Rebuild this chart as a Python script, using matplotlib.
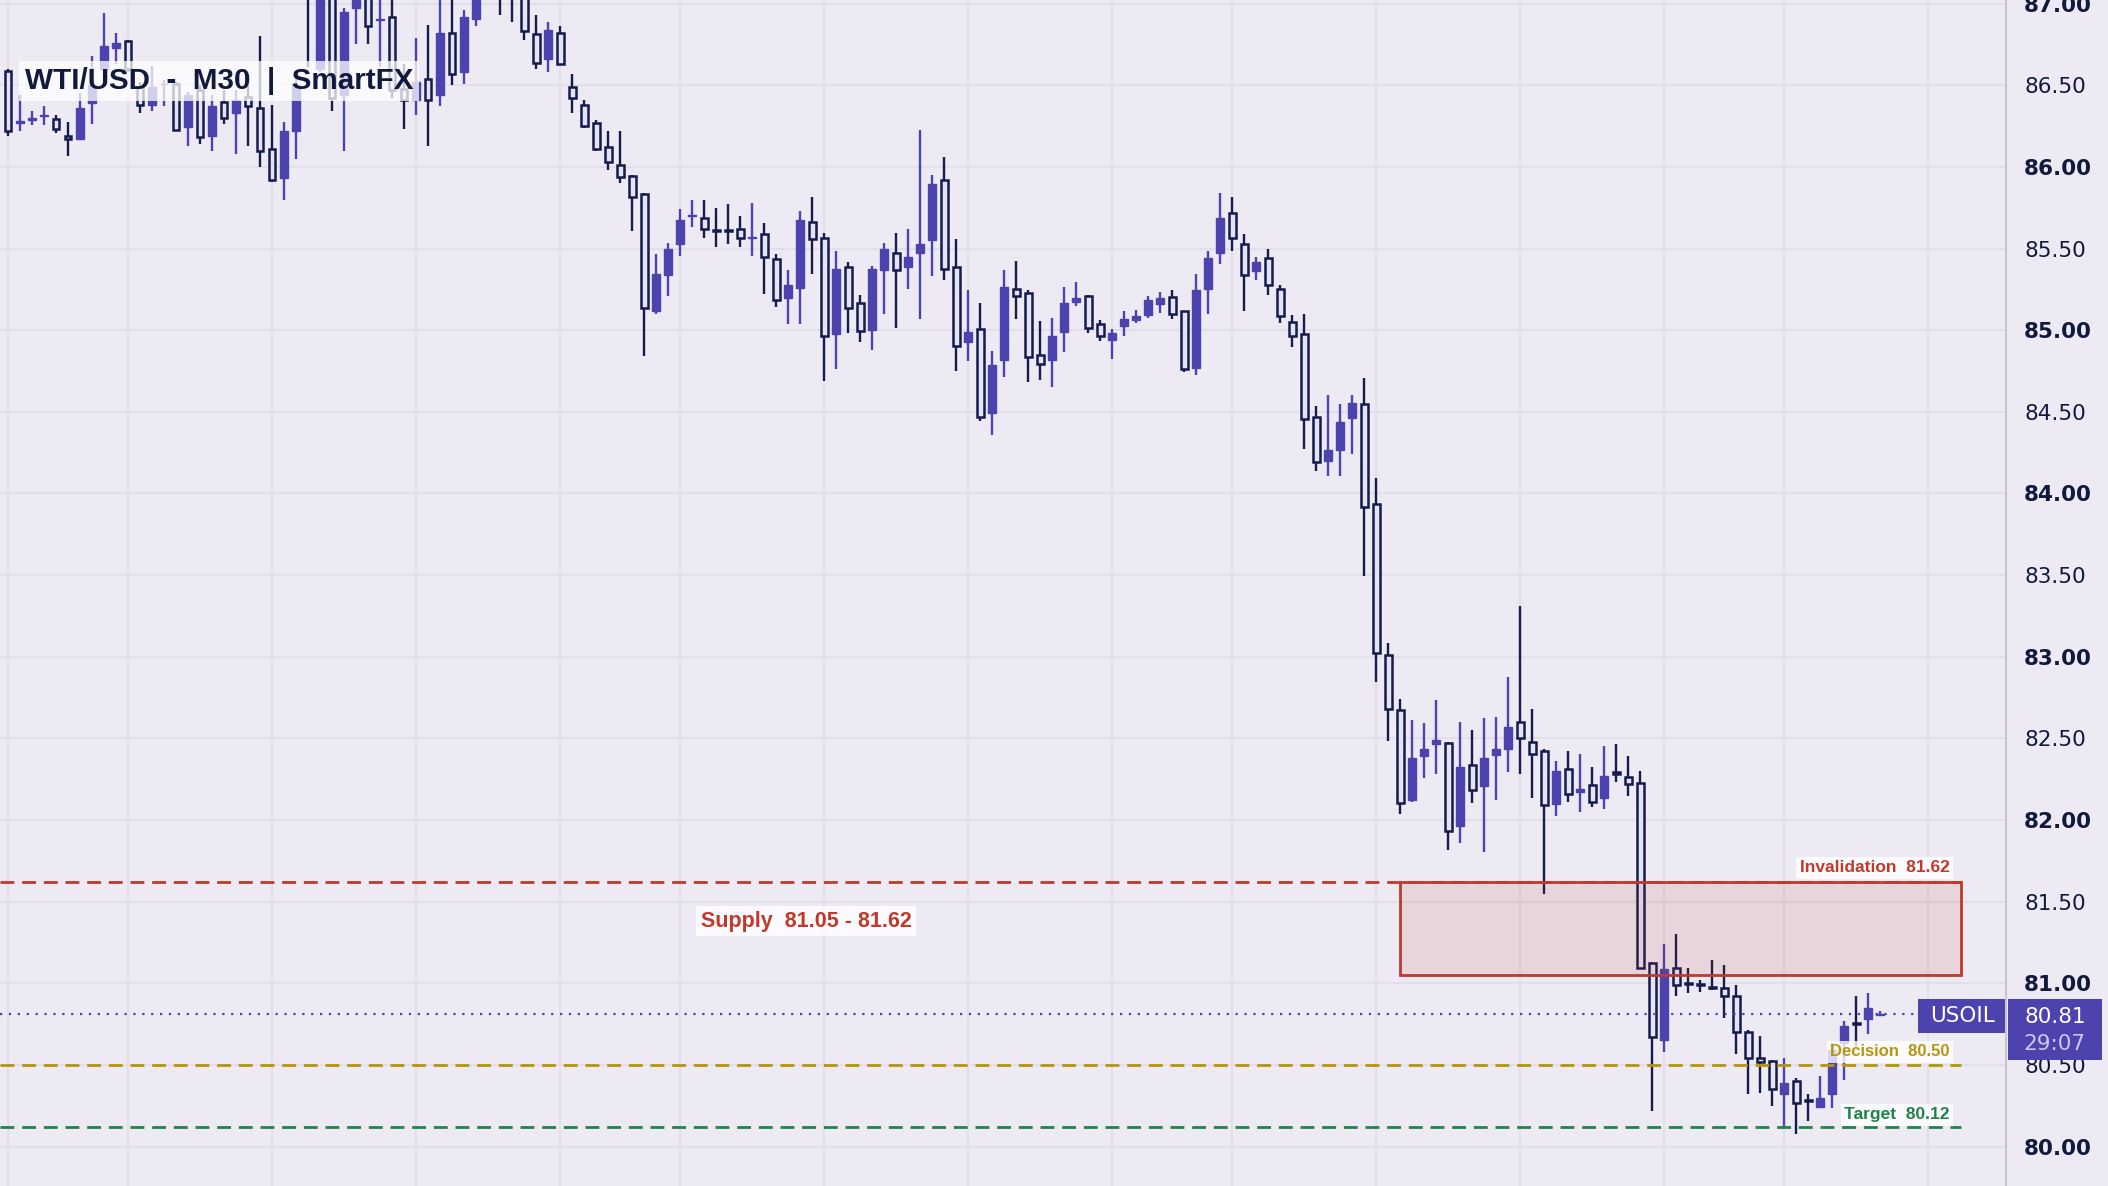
import matplotlib
matplotlib.use("Agg")
import matplotlib.pyplot as plt
from matplotlib.patches import Rectangle

# ---- data ----------------------------------------------------------------
opens = [86.59, 86.27, 86.29, 86.31, 86.295, 86.19, 86.17, 86.39, 86.60, 86.725,
         86.77, 86.49, 86.38, 86.505, 86.51, 86.245, 86.47, 86.19, 86.40, 86.33,
         86.43, 86.36, 86.11, 85.93, 86.22, 87.30, 86.60, 87.20, 86.44, 86.97,
         87.15, 86.90, 86.915, 86.475, 86.41, 86.54, 86.44, 86.82, 86.58, 86.905,
         87.08, 87.25, 87.12, 87.05, 86.815, 86.66, 86.82, 86.49, 86.38, 86.27,
         86.12, 86.01, 85.945, 85.835, 85.115, 85.335, 85.525, 85.70, 85.685, 85.613,
         85.613, 85.62, 85.565, 85.59, 85.435, 85.195, 85.26, 85.665, 85.565, 84.975,
         85.385, 85.165, 85.00, 85.37, 85.475, 85.385, 85.475, 85.555, 85.92, 85.385,
         84.925, 85.005, 84.49, 84.815, 85.255, 85.225, 84.85, 84.815, 84.99, 85.175,
         85.21, 85.04, 84.94, 85.025, 85.065, 85.095, 85.16, 85.205, 85.115, 84.77,
         85.255, 85.475, 85.715, 85.53, 85.365, 85.445, 85.255, 85.05, 84.975, 84.47,
         84.20, 84.265, 84.465, 84.545, 83.935, 83.01, 82.675, 82.12, 82.39, 82.465,
         82.47, 81.965, 82.34, 82.21, 82.40, 82.435, 82.60, 82.48, 82.42, 82.10,
         82.31, 82.17, 82.215, 82.135, 82.297, 82.265, 82.23, 81.125, 80.655, 81.095,
         81.00, 80.995, 80.975, 80.97, 80.925, 80.705, 80.54, 80.525, 80.325, 80.40,
         80.283, 80.245, 80.325, 80.635, 80.755, 80.78, 80.805]
highs = [86.60, 86.44, 86.34, 86.37, 86.32, 86.275, 86.45, 86.68, 86.94, 86.82,
         86.78, 86.52, 86.62, 86.53, 86.52, 86.46, 86.50, 86.44, 86.47, 86.47,
         86.50, 86.80, 86.38, 86.275, 86.58, 87.35, 87.25, 87.25, 86.97, 87.20,
         87.20, 87.05, 87.05, 86.63, 86.79, 86.87, 87.05, 87.05, 86.96, 87.10,
         87.30, 87.30, 87.18, 87.10, 86.93, 86.89, 86.86, 86.57, 86.41, 86.29,
         86.22, 86.22, 85.95, 85.84, 85.465, 85.535, 85.74, 85.80, 85.80, 85.75,
         85.77, 85.70, 85.78, 85.655, 85.465, 85.37, 85.73, 85.815, 85.595, 85.485,
         85.42, 85.215, 85.39, 85.535, 85.595, 85.62, 86.225, 85.95, 86.06, 85.56,
         85.245, 85.165, 84.875, 85.37, 85.425, 85.245, 85.055, 85.075, 85.265, 85.295,
         85.215, 85.065, 85.005, 85.115, 85.125, 85.21, 85.235, 85.245, 85.12, 85.345,
         85.485, 85.84, 85.815, 85.59, 85.45, 85.495, 85.275, 85.09, 85.10, 84.535,
         84.60, 84.55, 84.60, 84.71, 84.095, 83.085, 82.74, 82.61, 82.595, 82.735,
         82.475, 82.60, 82.55, 82.625, 82.63, 82.875, 83.31, 82.68, 82.435, 82.36,
         82.42, 82.405, 82.325, 82.455, 82.465, 82.39, 82.30, 81.13, 81.24, 81.30,
         81.095, 81.02, 81.14, 81.115, 80.99, 80.715, 80.68, 80.53, 80.545, 80.42,
         80.32, 80.435, 80.635, 80.77, 80.92, 80.94, 80.83]
lows = [86.19, 86.22, 86.255, 86.255, 86.21, 86.065, 86.165, 86.26, 86.55, 86.63,
        86.58, 86.33, 86.34, 86.37, 86.22, 86.13, 86.14, 86.10, 86.26, 86.08,
        86.13, 86.00, 85.91, 85.80, 86.05, 86.61, 86.58, 86.34, 86.10, 86.75,
        86.75, 86.61, 86.42, 86.23, 86.32, 86.13, 86.37, 86.50, 86.51, 86.86,
        87.04, 86.93, 86.89, 86.78, 86.60, 86.58, 86.63, 86.33, 86.24, 86.10,
        85.98, 85.90, 85.61, 84.84, 85.10, 85.21, 85.455, 85.63, 85.565, 85.51,
        85.53, 85.51, 85.455, 85.22, 85.14, 85.04, 85.04, 85.345, 84.69, 84.76,
        84.98, 84.93, 84.88, 85.10, 85.015, 85.25, 85.07, 85.33, 85.31, 84.75,
        84.81, 84.445, 84.36, 84.715, 85.07, 84.68, 84.695, 84.65, 84.865, 85.15,
        84.98, 84.935, 84.825, 84.965, 85.045, 85.075, 85.105, 85.07, 84.745, 84.725,
        85.10, 85.405, 85.485, 85.12, 85.31, 85.215, 85.045, 84.90, 84.275, 84.14,
        84.11, 84.11, 84.24, 83.495, 82.845, 82.485, 82.035, 82.11, 82.255, 82.285,
        81.815, 81.86, 82.105, 81.805, 82.12, 82.295, 82.28, 82.135, 81.55, 82.025,
        82.11, 82.05, 82.08, 82.065, 82.235, 82.145, 81.085, 80.22, 80.58, 80.925,
        80.94, 80.945, 80.96, 80.79, 80.57, 80.325, 80.33, 80.25, 80.12, 80.075,
        80.16, 80.24, 80.235, 80.41, 80.615, 80.69, 80.80]
closes = [86.22, 86.28, 86.30, 86.32, 86.23, 86.17, 86.36, 86.50, 86.74, 86.76,
          86.60, 86.38, 86.49, 86.51, 86.225, 86.44, 86.18, 86.37, 86.30, 86.41,
          86.37, 86.10, 85.92, 86.22, 86.50, 87.10, 87.20, 86.42, 86.95, 87.15,
          86.86, 86.905, 86.47, 86.41, 86.52, 86.41, 86.82, 86.57, 86.915, 87.08,
          87.25, 87.12, 87.04, 86.83, 86.635, 86.84, 86.63, 86.42, 86.25, 86.11,
          86.03, 85.94, 85.815, 85.135, 85.345, 85.50, 85.675, 85.705, 85.62, 85.61,
          85.61, 85.565, 85.568, 85.45, 85.185, 85.275, 85.675, 85.56, 84.965, 85.375,
          85.135, 84.995, 85.375, 85.50, 85.37, 85.45, 85.525, 85.895, 85.375, 84.905,
          84.99, 84.47, 84.785, 85.265, 85.21, 84.835, 84.795, 84.965, 85.165, 85.195,
          85.015, 84.965, 84.985, 85.07, 85.085, 85.185, 85.195, 85.10, 84.765, 85.245,
          85.445, 85.685, 85.565, 85.34, 85.415, 85.275, 85.085, 84.965, 84.455, 84.195,
          84.265, 84.44, 84.555, 83.915, 83.025, 82.68, 82.105, 82.38, 82.435, 82.49,
          81.93, 82.325, 82.185, 82.38, 82.435, 82.57, 82.50, 82.405, 82.09, 82.30,
          82.16, 82.19, 82.11, 82.27, 82.28, 82.22, 81.095, 80.67, 81.09, 80.99,
          80.995, 80.99, 80.97, 80.925, 80.70, 80.545, 80.52, 80.35, 80.39, 80.27,
          80.28, 80.295, 80.59, 80.74, 80.752, 80.85, 80.81]

price_ticks = [80.0, 80.5, 81.0, 81.5, 82.0, 82.5, 83.0, 83.5, 84.0, 84.5,
               85.0, 85.5, 86.0, 86.5, 87.0]
session_grid = [0, 10, 22, 34, 46, 56, 68, 80, 92, 102, 114, 126, 138, 148, 160]

symbol = "USOIL"
title = "WTI/USD  -  M30  |  SmartFX"
last_price = 80.81
timer = "29:07"
supply_low, supply_high = 81.05, 81.62
supply_start, levels_end = 116, 162.7
decision = 80.50
target = 80.12

# ---- style ---------------------------------------------------------------
BG = "#eeeaf4"
GRID = "#e2deea"
PURPLE = "#4c43ae"
NAVY = "#141b4d"
HOLLOW = "#e5e4f6"
TXT = "#111a3c"
RED = "#c0392b"
GOLD = "#b7950b"
GREEN = "#1e8449"
LABEL_FONT = "Liberation Sans"

fig = plt.figure(figsize=(21.08, 11.86), dpi=100)
fig.patch.set_facecolor(BG)
ax = fig.add_axes([0, 0, 2005 / 2108, 1])
ax.set_facecolor(BG)
ax.set_xlim(-0.67, 166.4)
ax.set_ylim(79.759, 87.022)
for s in ax.spines.values():
    s.set_visible(False)
ax.set_xticks([])
ax.set_yticks([])

for p in price_ticks:
    ax.axhline(p, color=GRID, lw=1.5, zorder=0)
for g in session_grid:
    ax.axvline(g, color=GRID, lw=1.5, zorder=0)

# candles
for i, (o, h, l, c) in enumerate(zip(opens, highs, lows, closes)):
    up = c >= o
    col = PURPLE if up else NAVY
    ax.vlines(i, l, h, color=col, lw=1.7, zorder=3)
    lo, hi = min(o, c), max(o, c)
    if up:
        ax.add_patch(Rectangle((i - 0.35, lo), 0.70, hi - lo, facecolor=PURPLE,
                               edgecolor=PURPLE, lw=1.0, zorder=4))
    else:
        ax.add_patch(Rectangle((i - 0.285, lo), 0.57, hi - lo, facecolor=HOLLOW,
                               edgecolor=NAVY, lw=1.8, zorder=4))

# supply zone and levels
ax.add_patch(Rectangle((supply_start, supply_low), levels_end - supply_start,
                       supply_high - supply_low, facecolor=RED, alpha=0.12,
                       edgecolor="none", zorder=5))
ax.add_patch(Rectangle((supply_start, supply_low), levels_end - supply_start,
                       supply_high - supply_low, facecolor="none",
                       edgecolor=RED, lw=2.0, zorder=6))
dash = (0, (5.0, 2.8))
ax.plot([-0.67, levels_end], [supply_high] * 2, color=RED, lw=2.0, ls=dash, zorder=6)
ax.plot([-0.67, levels_end], [decision] * 2, color=GOLD, lw=2.0, ls=dash, zorder=6)
ax.plot([-0.67, levels_end], [target] * 2, color=GREEN, lw=2.0, ls=dash, zorder=6)
ax.plot([-0.67, 159.2], [last_price] * 2, color=PURPLE, lw=1.6, ls=(0, (1, 3)), zorder=6)

box = dict(boxstyle="square,pad=0.2", fc="white", ec="none", alpha=0.78)
ax.text(161.8, supply_high + 0.087, f"Invalidation  {supply_high:.2f}", ha="right",
        va="center", color=RED, fontsize=12.5, fontweight="bold",
        family=LABEL_FONT, bbox=box, zorder=8)
ax.text(161.8, decision + 0.08, f"Decision  {decision:.2f}", ha="right",
        va="center", color=GOLD, fontsize=12, fontweight="bold",
        family=LABEL_FONT, bbox=box, zorder=8)
ax.text(161.8, target + 0.075, f"Target  {target:.2f}", ha="right",
        va="center", color=GREEN, fontsize=12.5, fontweight="bold",
        family=LABEL_FONT, bbox=box, zorder=8)
ax.text(66.5, 81.38, f"Supply  {supply_low:.2f} - {supply_high:.2f}", ha="center",
        va="center", color=RED, fontsize=15.5, fontweight="bold",
        family=LABEL_FONT, bbox=box, zorder=8)

# title
fig.text(25 / 2108, 1 - 81 / 1186, title, ha="left", va="center", color=TXT,
         fontsize=21.3, fontweight="bold", family=LABEL_FONT,
         bbox=dict(boxstyle="square,pad=0.2", fc="white", ec="none", alpha=0.75),
         zorder=10)

# right price scale
yx = ax.get_yaxis_transform()
ax.plot([1.0005, 1.0005], [0, 1], transform=ax.transAxes, color="#c8c3cf",
        lw=1.5, clip_on=False, zorder=7)
for p in price_ticks:
    whole = abs(p - round(p)) < 1e-9
    ax.text(1.0095, p, f"{p:.2f}", transform=yx, ha="left", va="center_baseline",
            color=TXT, fontsize=15.5, fontweight="bold" if whole else "normal",
            clip_on=False, zorder=7)

ax.add_patch(Rectangle((1.0015, last_price - 0.279), 0.047, 0.374, transform=yx,
                       facecolor=PURPLE, edgecolor="none", clip_on=False, zorder=9))
ax.text(1.0249, last_price - 0.016, f"{last_price:.2f}", transform=yx, ha="center",
        va="center", color="white", fontsize=15.5, clip_on=False, zorder=10)
ax.text(1.0249, last_price - 0.181, timer, transform=yx, ha="center",
        va="center", color="#cac7f0", fontsize=15.5, clip_on=False, zorder=10)
ax.add_patch(Rectangle((0.9566, last_price - 0.113), 0.0434, 0.208, transform=yx,
                       facecolor=PURPLE, edgecolor="none", clip_on=False, zorder=9))
ax.text(0.9786, last_price - 0.01, symbol, transform=yx, ha="center",
        va="center", color="white", fontsize=15.5, clip_on=False, zorder=10)

fig.savefig("out.png", dpi=100, facecolor=BG)
